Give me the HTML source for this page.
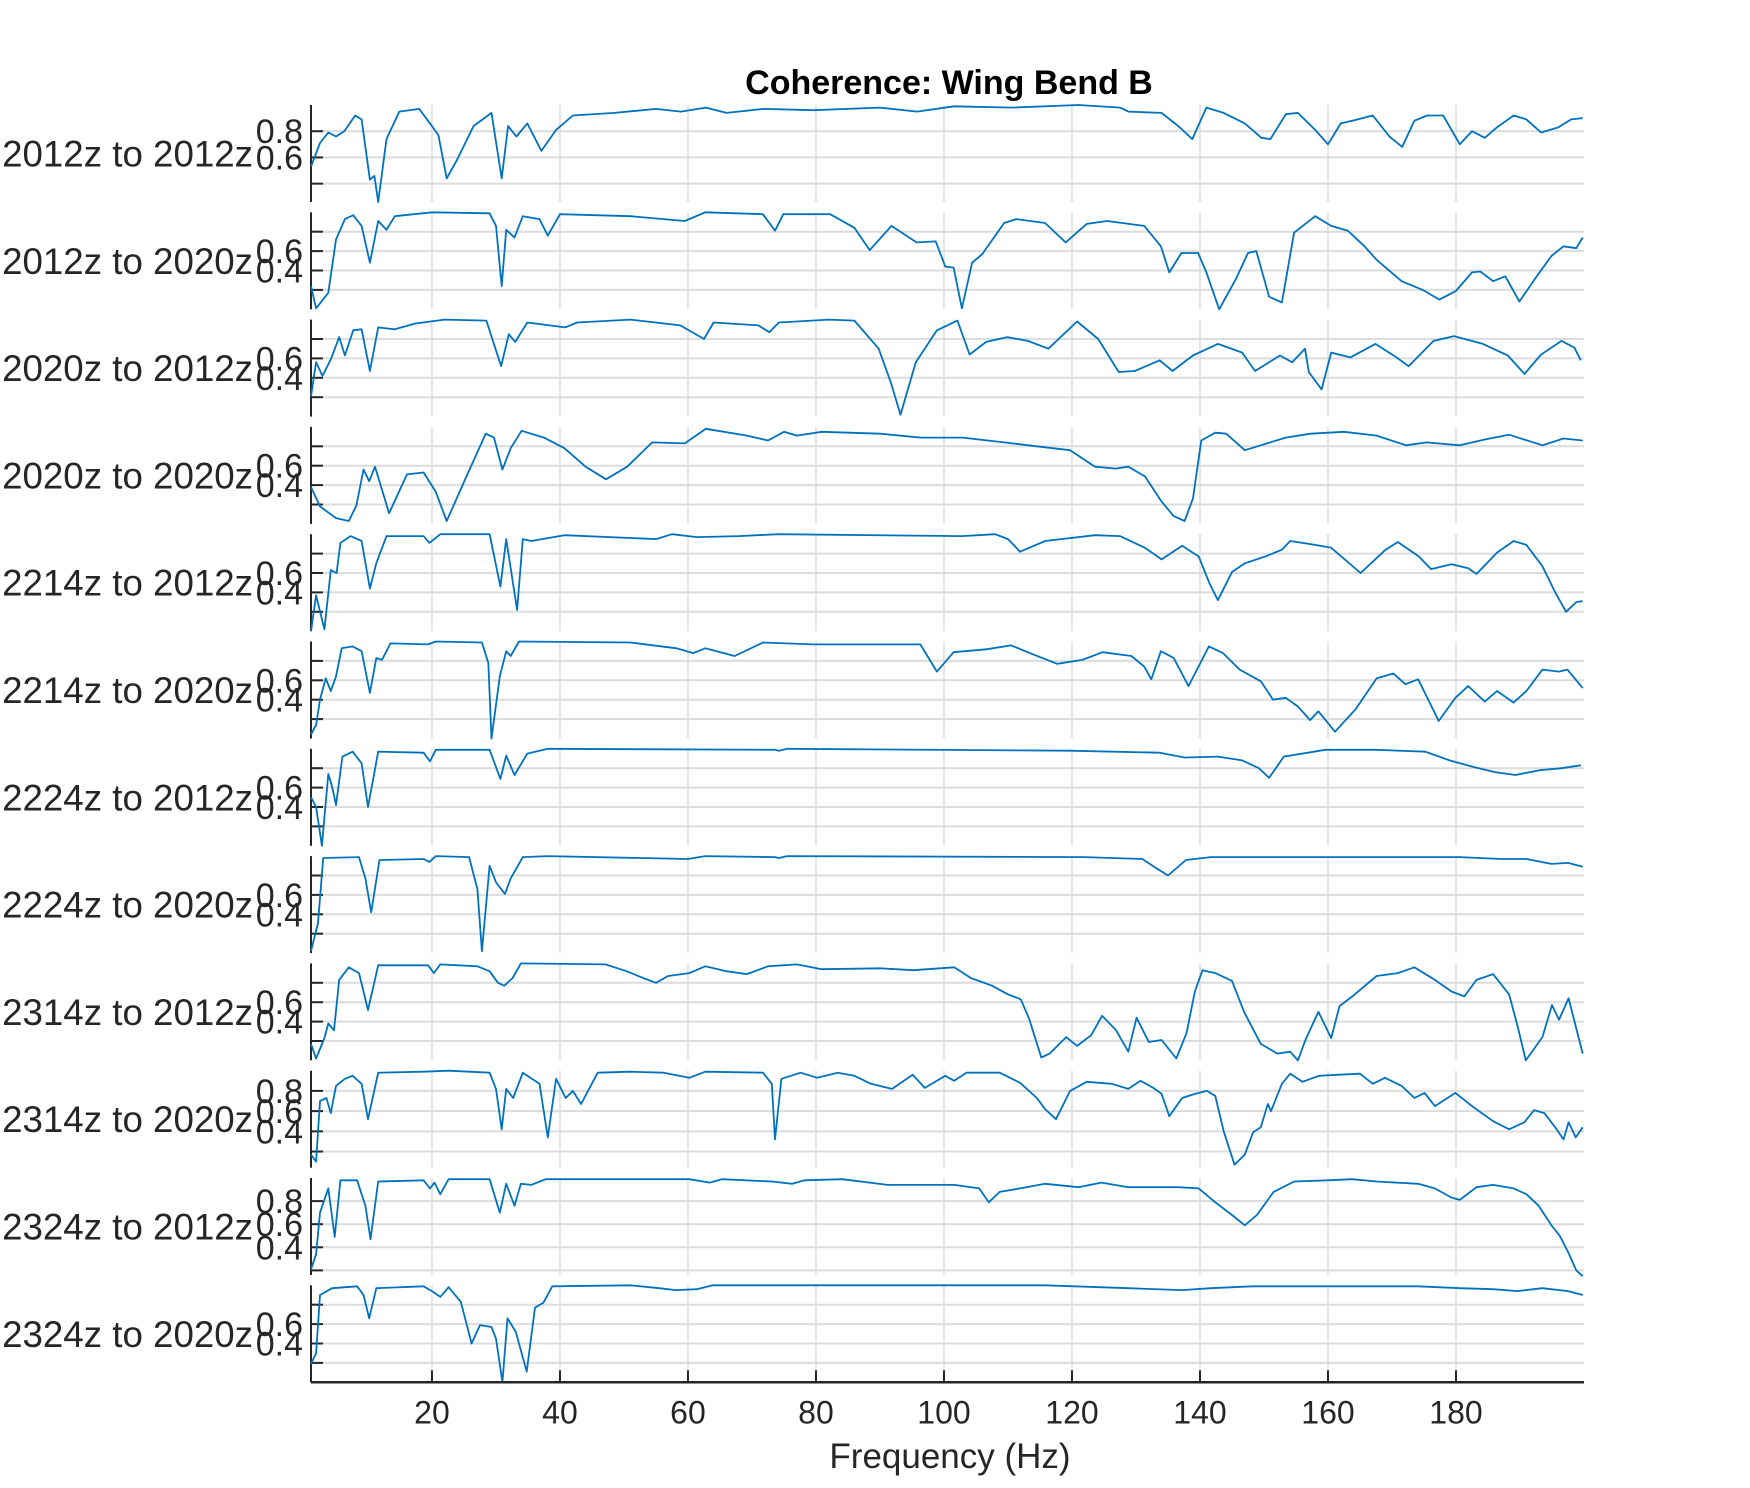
<!DOCTYPE html>
<html><head><meta charset="utf-8"><title>Coherence: Wing Bend B</title>
<style>
html,body{margin:0;padding:0;background:#fff;}
svg{display:block;}
text{font-family:"Liberation Sans",Arial,sans-serif;fill:#262626;}
</style></head>
<body>
<svg id="chart" width="1750" height="1488" viewBox="0 0 1750 1488" xmlns="http://www.w3.org/2000/svg">
<text x="949" y="94" text-anchor="middle" font-size="34" font-weight="bold" style="fill:#000">Coherence: Wing Bend B</text>
<text x="950" y="1468" text-anchor="middle" font-size="35">Frequency (Hz)</text>
<g id="panels"></g>
</svg>
<script>
const seriesLabels=["2012z to 2012z","2012z to 2020z","2020z to 2012z","2020z to 2020z","2214z to 2012z","2214z to 2020z","2224z to 2012z","2224z to 2020z","2314z to 2012z","2314z to 2020z","2324z to 2012z","2324z to 2020z"];
const yMins=[0.26,0,0,0,0,0,0,0,0,0.04,0.16,0];
const yTickLabels=[["0.8","0.6"],["0.6","0.4"],["0.6","0.4"],["0.6","0.4"],["0.6","0.4"],["0.6","0.4"],["0.6","0.4"],["0.6","0.4"],["0.6","0.4"],["0.8","0.6","0.4"],["0.8","0.6","0.4"],["0.6","0.4"]];
const xTicks=[20,40,60,80,100,120,140,160,180];

const f1=[1.1,2.5,3.8,5,6.3,8,9,10.3,11,11.6,12.9,14.9,18,19.7,21,22.3,23.9,26.5,29.3,30.9,31.9,33.2,34.9,37.1,39.4,42,48.5,55,58.9,62.8,66,71.8,79.6,90,95.8,101.6,110.6,121,127.5,128.8,134,136.6,138.8,141,143.7,147,149.6,151,153.4,155.3,158,160,162,163.8,167,169.6,171.6,173.5,175.5,178,180.6,182.5,184.5,186.4,189,191,193.3,196,198,199.8];
const c1=[0.53,0.71,0.79,0.76,0.8,0.92,0.89,0.43,0.46,0.26,0.74,0.95,0.97,0.86,0.77,0.44,0.58,0.84,0.94,0.44,0.84,0.76,0.86,0.65,0.81,0.92,0.94,0.97,0.95,0.98,0.94,0.97,0.96,0.98,0.95,0.99,0.98,1.0,0.98,0.95,0.94,0.84,0.74,0.98,0.94,0.86,0.75,0.74,0.93,0.94,0.81,0.70,0.86,0.88,0.92,0.76,0.68,0.88,0.92,0.92,0.70,0.80,0.75,0.83,0.92,0.89,0.79,0.83,0.89,0.90];

const f2=[1.1,1.9,3.8,5,6.4,7.7,9,10.3,11.6,12.9,14.2,20,29,30,30.9,31.6,32.9,34.2,36.8,38.1,40,51,59.5,62.7,71.7,73.6,74.9,82.2,86,88.4,91.8,95.7,98.7,100.2,101.5,102.8,104.4,106,109.4,111.3,115.8,119,122.3,125.5,131.3,133.9,135.2,137.1,139.7,141,143,145.6,147.5,148.8,150.8,152.8,154.7,158,160.5,163.1,165.7,167.6,171.5,174.8,177.4,180,182.5,183.8,185.8,187.7,189.9,192.3,194.9,196.8,198.8,199.8];
const c2=[0.24,0.01,0.17,0.72,0.93,0.97,0.86,0.48,0.91,0.82,0.96,1.0,0.99,0.86,0.24,0.82,0.74,0.96,0.93,0.76,0.98,0.96,0.91,1.0,0.98,0.81,0.98,0.98,0.84,0.61,0.86,0.69,0.70,0.44,0.43,0.01,0.48,0.57,0.89,0.93,0.89,0.69,0.88,0.91,0.86,0.65,0.38,0.58,0.58,0.38,0.0,0.31,0.58,0.60,0.13,0.07,0.79,0.96,0.86,0.81,0.65,0.51,0.29,0.20,0.10,0.19,0.38,0.39,0.29,0.34,0.08,0.31,0.55,0.65,0.63,0.74];

const f3=[1.1,1.9,2.9,4.2,5.5,6.4,7.7,9,10.3,11.6,14.2,17.4,22,28.5,30.8,32,33,34.9,40.8,42.7,51,58.8,62.5,64,71,72.7,74.2,82,86,89.8,91.7,93.2,95.6,98.9,102.1,104,106.6,109.9,113.1,116.3,120.8,124.1,127.3,129.8,133.7,135.7,138.9,142.8,146.6,148.6,152.5,154.4,156.4,157,159,160.5,163.5,167.4,170.7,172.6,176.5,179.7,184.2,188.1,190.7,193.3,196.5,198.5,199.5];
const c3=[0.21,0.56,0.42,0.59,0.82,0.63,0.89,0.90,0.47,0.92,0.90,0.96,1.0,0.99,0.52,0.85,0.77,0.97,0.92,0.97,1.0,0.94,0.80,0.97,0.94,0.87,0.97,1.0,0.99,0.70,0.35,0.02,0.56,0.89,0.99,0.64,0.77,0.82,0.78,0.70,0.98,0.80,0.46,0.47,0.58,0.47,0.63,0.75,0.66,0.47,0.63,0.56,0.70,0.46,0.28,0.66,0.61,0.75,0.61,0.52,0.78,0.83,0.75,0.63,0.44,0.64,0.78,0.71,0.58];

const f4=[1.1,2.5,5,7,8.2,9.3,10.2,11.1,13.3,16.1,18.7,20.6,22.3,25.2,28.4,29.7,31,32.3,34,37.5,40.7,44,47.2,50.5,54.4,59.5,62.8,69.2,72.5,75,77,80.9,90,96.4,102.9,109.4,115.8,119.7,123.6,126.8,128.8,131.4,134,135.9,137.6,138.9,140.2,142.4,144.1,147,149.5,153.4,157.3,162.5,167.6,172.2,175.4,180.6,184.5,188.3,193.5,196.8,199.8];
const c4=[0.38,0.18,0.06,0.03,0.19,0.56,0.44,0.59,0.11,0.51,0.53,0.33,0.03,0.46,0.93,0.89,0.56,0.78,0.96,0.89,0.78,0.59,0.46,0.59,0.84,0.83,0.98,0.91,0.86,0.95,0.91,0.95,0.93,0.89,0.89,0.84,0.79,0.76,0.59,0.57,0.59,0.49,0.23,0.08,0.03,0.26,0.86,0.94,0.93,0.76,0.81,0.89,0.93,0.95,0.91,0.81,0.84,0.81,0.87,0.92,0.81,0.88,0.86];

const f5=[1.1,1.9,3.2,4.2,5.1,5.7,7.3,9,10.3,11.3,12.9,18.7,19.6,21.3,29,30.7,31.6,33.3,34.2,35.5,40.7,55,57.5,61.4,67.9,74.2,102.8,108,110,111.9,115.8,123.6,127.5,131.4,134,137.2,139.8,141.5,142.8,145,147,150.2,152.8,154.1,158,160.5,165.1,169,170.9,174.2,176.1,179.3,181.9,183.2,186.4,189,191,193.5,195.5,197.2,198.8,199.8];
const c5=[0.0,0.37,0.02,0.63,0.60,0.91,0.98,0.93,0.44,0.70,0.98,0.98,0.91,1.0,1.0,0.46,0.95,0.22,0.95,0.93,0.99,0.95,1.0,0.97,0.98,1.0,0.98,1.0,0.95,0.82,0.93,0.99,0.98,0.86,0.74,0.88,0.77,0.49,0.32,0.61,0.70,0.77,0.84,0.93,0.89,0.86,0.60,0.84,0.92,0.77,0.64,0.69,0.65,0.59,0.81,0.93,0.89,0.67,0.40,0.20,0.30,0.31];

const f6=[1.1,1.9,2.5,3.4,4.2,5,5.9,7.6,9,10.3,11.3,12.2,13.5,19.4,20.6,27.8,28.8,29.3,30.6,31.6,32.3,33.6,51,58.2,60.8,62.7,67.3,71.7,79.5,96.3,98.9,101.5,106.6,110.5,113.8,117.7,121.6,124.8,129.3,131.3,132.4,133.9,135.9,138.2,141.4,143.6,146.2,149.5,151.4,153.4,155.3,157.2,158.5,161.1,164.3,167.6,170.2,172.1,174.1,177.3,179.9,181.9,184.5,186.4,189,191,193.5,196.1,197.4,199.8];
const c6=[0.04,0.14,0.40,0.62,0.49,0.64,0.93,0.95,0.90,0.47,0.83,0.81,0.98,0.97,1.0,0.99,0.78,0.0,0.64,0.90,0.85,1.0,0.99,0.93,0.88,0.93,0.85,0.99,0.97,0.97,0.69,0.89,0.92,0.96,0.87,0.77,0.81,0.89,0.85,0.74,0.61,0.90,0.83,0.54,0.95,0.88,0.71,0.59,0.40,0.42,0.33,0.19,0.28,0.07,0.30,0.62,0.67,0.56,0.61,0.18,0.42,0.54,0.38,0.49,0.37,0.49,0.71,0.69,0.71,0.52];

const f7=[1.1,1.9,2.8,3.8,4.4,5,6,7.6,9,10,11.6,18.7,19.7,20.6,29,30.7,31.6,32.9,34.9,38.1,73.6,74.2,75.5,119.5,133.7,137.6,142.8,146.6,149.2,150.8,153.1,159.6,167.4,175.2,179,182.9,186.1,189.3,193.2,196.5,199.5];
const c7=[0.50,0.40,0.0,0.74,0.61,0.42,0.92,0.97,0.85,0.40,0.97,0.96,0.87,0.99,0.99,0.69,0.93,0.73,0.95,1.0,0.99,0.98,1.0,0.98,0.96,0.91,0.92,0.88,0.80,0.70,0.92,0.99,0.99,0.97,0.88,0.81,0.76,0.73,0.78,0.80,0.83];

const f8=[1.1,2.2,3,8.6,9.6,10.5,11.8,18.7,19.6,20.6,25.8,27.1,27.8,29,30,31.4,32.3,34.2,38.1,60,62.7,73.6,74.2,75.5,122,131,133.3,135,137.8,141.7,180.6,187,191,194.9,197.5,199.8];
const c8=[0.02,0.31,0.98,0.99,0.77,0.42,0.96,0.97,0.94,1.0,0.99,0.66,0.02,0.90,0.73,0.61,0.77,0.99,1.0,0.97,1.0,0.99,0.98,1.0,0.99,0.97,0.87,0.80,0.96,0.99,0.99,0.97,0.97,0.92,0.93,0.89];

const f9=[1.1,1.9,3.2,3.8,4.7,5.5,7,8.6,10,11.6,19.4,20.3,21.3,27.1,29,30.3,31.3,32.6,33.9,47.1,50.4,53,55,56.9,60.2,62.7,66,69.2,72.5,77,80.9,90,95.2,101.6,104.2,107.5,110,112,113.3,115.2,116.5,119.1,120.8,123,124.7,126.9,128.8,130.1,132,134,136.3,137.9,139.2,140.4,142.4,145,146.9,149.5,152.1,154.1,155.3,156.6,158.5,160.5,161.8,163.8,167.6,170.9,173.5,176.7,179.3,181.3,183.2,185.8,188.3,189.6,190.9,193.5,195,196.1,197.6,199.8];
const c9=[0.17,0.02,0.23,0.38,0.31,0.83,0.96,0.90,0.52,0.98,0.98,0.90,0.99,0.97,0.92,0.80,0.77,0.85,1.0,0.99,0.92,0.85,0.80,0.87,0.90,0.97,0.92,0.89,0.97,0.99,0.94,0.95,0.93,0.96,0.85,0.77,0.68,0.63,0.43,0.03,0.07,0.24,0.15,0.26,0.46,0.31,0.09,0.44,0.19,0.21,0.02,0.28,0.71,0.93,0.90,0.82,0.50,0.17,0.07,0.09,0.0,0.23,0.50,0.23,0.56,0.66,0.87,0.90,0.96,0.83,0.71,0.66,0.83,0.89,0.68,0.36,0.0,0.24,0.57,0.42,0.64,0.07];

const f10=[1.1,1.9,2.5,3.5,4.2,5,6.4,7.6,9,10,11.6,18.7,22.6,29,30,30.9,31.6,32.7,34.2,36.8,38.1,39.4,40.9,42,43.3,45.9,51,56.2,60.2,62.7,71.7,73.1,73.6,74.6,77.6,80.2,83.4,86,88.6,91.9,95.1,97,100.2,101.6,103.5,108.7,111.9,114.5,115.8,117.5,119.7,122.3,126.2,128.8,130.7,132.7,134,135.2,137.2,139.2,141.1,142.4,143.7,145.4,147,148.3,149.5,150.6,151.1,152.8,154.1,156,158.6,161.8,165,167,168.9,171.5,173.5,175.1,176.7,179.9,182.5,185.8,188.3,190.7,192.2,193.8,195.5,196.8,197.6,198.7,199.8];
const c10=[0.17,0.10,0.70,0.73,0.58,0.85,0.92,0.95,0.87,0.52,0.98,0.99,1.0,0.98,0.82,0.42,0.82,0.73,0.98,0.87,0.34,0.92,0.73,0.80,0.67,0.98,0.99,0.98,0.93,0.99,0.98,0.87,0.32,0.92,0.98,0.93,0.98,0.95,0.87,0.82,0.96,0.83,0.95,0.90,0.98,0.98,0.88,0.73,0.62,0.52,0.80,0.89,0.87,0.82,0.90,0.83,0.77,0.55,0.73,0.77,0.80,0.75,0.40,0.07,0.17,0.39,0.44,0.67,0.60,0.87,0.97,0.89,0.95,0.96,0.97,0.87,0.93,0.85,0.73,0.78,0.65,0.78,0.65,0.50,0.42,0.49,0.61,0.58,0.44,0.32,0.49,0.34,0.44];

const f11=[1.1,1.9,2.5,3.8,4.8,5.7,8.3,9.6,10.4,11.6,18.7,19.7,20.4,21.3,22.6,29,30.6,31.6,32.9,33.9,35.5,37.8,60.2,63.4,65.3,73.1,76.3,78.2,84.1,91.2,97.7,101.6,105.5,107,108.7,111.9,115.8,121,124.6,128.8,136.6,139.8,142.4,145,147,148.9,151.5,154.7,159.9,163.7,167.6,174.1,176.7,179.3,180.6,183.2,185.8,189,191,192.9,194.9,196.2,197.5,198.8,199.8];
const c11=[0.21,0.34,0.70,0.91,0.49,0.98,0.98,0.76,0.47,0.97,0.98,0.91,0.96,0.86,0.99,0.99,0.70,0.95,0.76,0.95,0.94,0.99,0.99,0.96,0.99,0.97,0.95,0.98,0.99,0.94,0.94,0.94,0.91,0.79,0.88,0.91,0.95,0.92,0.96,0.92,0.92,0.91,0.79,0.68,0.59,0.68,0.88,0.97,0.98,0.99,0.97,0.95,0.91,0.83,0.81,0.92,0.94,0.91,0.86,0.76,0.59,0.50,0.36,0.20,0.15];

const f12=[1.1,1.9,2.5,4.4,8.3,9.3,10.2,11.3,18.7,20,21.3,22.6,24.5,26.2,27.5,29.3,30,31,31.8,33.1,34.8,36.1,37.4,38.8,51,55.5,58.1,61.4,63.9,77,115.8,128.8,137.2,141.7,148.2,161.1,174.1,180.6,185.8,189.6,193.5,197.5,199.8];
const c12=[0.19,0.30,0.90,0.97,0.99,0.90,0.66,0.97,0.99,0.94,0.88,0.98,0.83,0.40,0.59,0.57,0.45,0.0,0.66,0.52,0.11,0.77,0.82,0.99,1.0,0.97,0.95,0.96,1.0,1.0,1.0,0.97,0.95,0.97,0.99,0.99,0.99,0.97,0.96,0.94,0.97,0.94,0.90];

const freqs=[f1,f2,f3,f4,f5,f6,f7,f8,f9,f10,f11,f12];
const cohs=[c1,c2,c3,c4,c5,c6,c7,c8,c9,c10,c11,c12];

const NS="http://www.w3.org/2000/svg";
const X0=311,X1=1584,FMIN=1.1,FMAX=200,TOP0=105,PITCH=107.3,PH=97;
function xScale(f){return X0+(f-FMIN)/(FMAX-FMIN)*(X1-X0);}
function yScale(i,v){const top=TOP0+i*PITCH;return top+PH-(v-yMins[i])/(1-yMins[i])*PH;}
function mk(tag,attrs,parent){const e=document.createElementNS(NS,tag);for(const k in attrs)e.setAttribute(k,attrs[k]);parent.appendChild(e);return e;}
const root=document.getElementById('panels');

for(let i=0;i<12;i++){
  const top=TOP0+i*PITCH,bot=top+PH;
  const g=mk('g',{},root);
  
  
  xTicks.forEach(t=>{
    const l=mk('line',{x1:xScale(t),x2:xScale(t),y1:top,y2:bot,stroke:'#dcdcdc','stroke-width':1.5},g);
    
    
  });
  const gv=[0.2,0.4,0.6,0.8].filter(v=>v>yMins[i]+0.01);
  gv.forEach(v=>{
    const y=yScale(i,v);
    const l=mk('line',{x1:X0,x2:X1,y1:y,y2:y,stroke:'#dcdcdc','stroke-width':2},g);
    
    
    const tk=mk('line',{x1:X0,x2:X0+12,y1:y,y2:y,stroke:'#262626','stroke-width':2},g);
    
    
  });
  const ax=mk('line',{x1:X0,x2:X0,y1:top,y2:bot,stroke:'#262626','stroke-width':2},g);
  
  
  yTickLabels[i].forEach(s=>{
    const t=mk('text',{x:303,y:yScale(i,parseFloat(s))+12,'text-anchor':'end','font-size':34},g);
    t.textContent=s;
    
    
  });
  const lb=mk('text',{x:253,y:(top+bot)/2+13,'text-anchor':'end','font-size':36.7},g);
  lb.textContent=seriesLabels[i];
  
  
  const pts=freqs[i].map((f,k)=>xScale(f).toFixed(1)+','+yScale(i,cohs[i][k]).toFixed(1)).join(' ');
  const pl=mk('polyline',{points:pts,fill:'none',stroke:'#0072BD','stroke-width':1.8,'stroke-linejoin':'round'},g);
  
  
}
const last=TOP0+11*PITCH+PH;
const xa=mk('line',{x1:X0,x2:X1,y1:last,y2:last,stroke:'#262626','stroke-width':2.5},root);


xTicks.forEach(t=>{
  const tk=mk('line',{x1:xScale(t),x2:xScale(t),y1:last-12,y2:last,stroke:'#262626','stroke-width':2},root);
  
  
  const tl=mk('text',{x:xScale(t),y:last+41,'text-anchor':'middle','font-size':32},root);
  tl.textContent=String(t);
  
  
});
</script>
</body></html>
